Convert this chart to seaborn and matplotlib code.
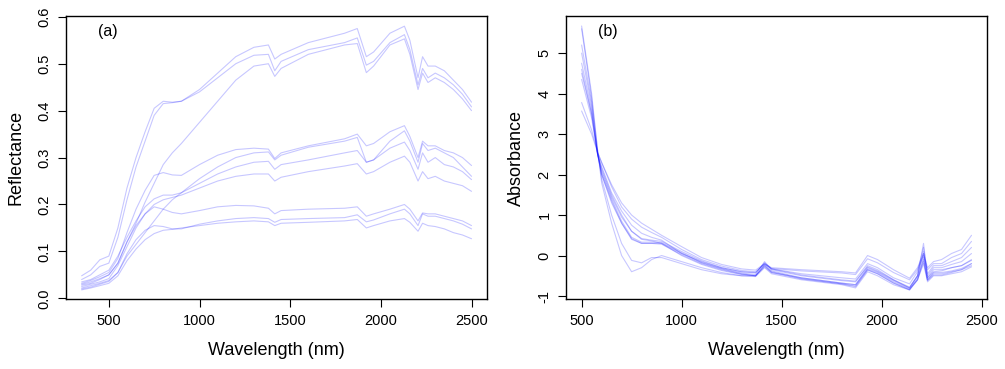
import numpy as np
import pandas as pd
import matplotlib
matplotlib.use('Agg')
import matplotlib.pyplot as plt
import seaborn as sns

# (a) reflectance spectra
wl_refl = [350, 400, 450, 500, 550, 600, 650, 700, 750, 800, 850, 900, 1000, 1100, 1200, 1300,
           1380, 1415, 1450, 1600, 1800, 1870, 1920, 1960, 2050, 2130, 2160, 2205, 2230, 2260,
           2300, 2350, 2400, 2450, 2500]

refl_a1 = [0.048, 0.060, 0.082, 0.090, 0.150, 0.235, 0.300, 0.355, 0.405, 0.420, 0.418, 0.420, 0.445, 0.480, 0.515, 0.535,
           0.540, 0.510, 0.520, 0.545, 0.565, 0.575, 0.515, 0.525, 0.565, 0.580, 0.550, 0.470, 0.515, 0.495,
           0.495, 0.485, 0.465, 0.445, 0.418]
refl_a2 = [0.040, 0.050, 0.068, 0.075, 0.130, 0.210, 0.280, 0.335, 0.390, 0.415, 0.417, 0.420, 0.440, 0.470, 0.500, 0.518,
           0.520, 0.485, 0.505, 0.530, 0.545, 0.555, 0.497, 0.505, 0.545, 0.562, 0.530, 0.455, 0.490, 0.470,
           0.480, 0.470, 0.455, 0.435, 0.408]
refl_a3 = [0.030, 0.035, 0.042, 0.050, 0.075, 0.120, 0.160, 0.205, 0.245, 0.285, 0.310, 0.330, 0.375, 0.420, 0.465, 0.495,
           0.500, 0.473, 0.490, 0.520, 0.540, 0.543, 0.481, 0.495, 0.540, 0.553, 0.520, 0.445, 0.480, 0.460,
           0.470, 0.460, 0.445, 0.425, 0.400]
refl_b1 = [0.032, 0.038, 0.046, 0.055, 0.085, 0.140, 0.190, 0.230, 0.262, 0.268, 0.263, 0.262, 0.285, 0.305, 0.317, 0.320,
           0.318, 0.298, 0.310, 0.325, 0.340, 0.350, 0.325, 0.330, 0.355, 0.368, 0.345, 0.300, 0.335, 0.325,
           0.325, 0.315, 0.310, 0.300, 0.283]
refl_b2 = [0.022, 0.027, 0.032, 0.038, 0.055, 0.090, 0.115, 0.140, 0.165, 0.190, 0.210, 0.225, 0.255, 0.280, 0.300, 0.310,
           0.312, 0.295, 0.305, 0.322, 0.335, 0.343, 0.290, 0.295, 0.335, 0.357, 0.335, 0.290, 0.330, 0.315,
           0.320, 0.310, 0.300, 0.280, 0.260]
refl_b3 = [0.035, 0.040, 0.050, 0.060, 0.090, 0.130, 0.165, 0.195, 0.212, 0.220, 0.220, 0.225, 0.245, 0.265, 0.280, 0.290,
           0.292, 0.275, 0.285, 0.295, 0.310, 0.315, 0.290, 0.295, 0.320, 0.333, 0.315, 0.275, 0.310, 0.290,
           0.300, 0.285, 0.280, 0.270, 0.253]
refl_b4 = [0.025, 0.030, 0.035, 0.042, 0.070, 0.110, 0.150, 0.180, 0.200, 0.210, 0.215, 0.220, 0.235, 0.250, 0.260, 0.265,
           0.265, 0.250, 0.258, 0.270, 0.282, 0.287, 0.265, 0.270, 0.290, 0.303, 0.290, 0.250, 0.270, 0.255,
           0.260, 0.250, 0.245, 0.240, 0.228]
refl_c1 = [0.028, 0.032, 0.040, 0.050, 0.075, 0.120, 0.155, 0.180, 0.195, 0.190, 0.183, 0.180, 0.187, 0.195, 0.198, 0.197,
           0.192, 0.180, 0.187, 0.190, 0.192, 0.195, 0.175, 0.180, 0.190, 0.200, 0.190, 0.165, 0.182, 0.180,
           0.180, 0.175, 0.170, 0.165, 0.155]
refl_c2 = [0.020, 0.024, 0.030, 0.036, 0.055, 0.095, 0.125, 0.145, 0.155, 0.153, 0.148, 0.148, 0.158, 0.165, 0.170, 0.172,
           0.170, 0.162, 0.168, 0.170, 0.172, 0.178, 0.163, 0.167, 0.180, 0.190, 0.180, 0.155, 0.180, 0.175,
           0.175, 0.170, 0.165, 0.158, 0.148]
refl_c3 = [0.018, 0.022, 0.027, 0.032, 0.048, 0.080, 0.105, 0.125, 0.138, 0.145, 0.147, 0.150, 0.155, 0.160, 0.163, 0.165,
           0.163, 0.155, 0.160, 0.162, 0.165, 0.168, 0.150, 0.155, 0.165, 0.170, 0.162, 0.143, 0.160, 0.155,
           0.153, 0.148, 0.140, 0.135, 0.127]

# (b) absorbance spectra
wl_abs = [500, 550, 580, 600, 650, 700, 750, 800, 850, 900, 1000, 1100, 1200, 1300, 1370, 1415,
          1450, 1600, 1800, 1870, 1930, 1980, 2060, 2140, 2180, 2210, 2230, 2260, 2300, 2350, 2400, 2450]

abs_1 = [3.57, 3.00, 2.55, 2.30, 1.75, 1.30, 1.00, 0.80, 0.65, 0.50, 0.22, -0.05, -0.22, -0.33, -0.36, -0.20,
         -0.30, -0.35, -0.40, -0.43, 0.00, -0.10, -0.35, -0.56, -0.30, 0.05, -0.30, -0.15, -0.10, 0.05, 0.15, 0.50]
abs_2 = [3.78, 3.10, 2.55, 2.30, 1.70, 1.20, 0.90, 0.70, 0.57, 0.45, 0.15, -0.10, -0.26, -0.37, -0.40, -0.22,
         -0.32, -0.38, -0.43, -0.47, -0.08, -0.18, -0.42, -0.60, -0.35, 0.00, -0.35, -0.20, -0.20, -0.05, 0.05, 0.35]
abs_3 = [4.50, 3.50, 2.50, 2.20, 1.55, 1.10, 0.75, 0.55, 0.45, 0.38, 0.05, -0.15, -0.30, -0.40, -0.42, -0.20,
         -0.33, -0.45, -0.55, -0.58, -0.20, -0.30, -0.55, -0.70, -0.40, 0.20, -0.45, -0.25, -0.25, -0.15, -0.05, 0.20]
abs_4 = [5.00, 3.70, 2.50, 2.00, 1.30, 0.80, 0.40, 0.30, 0.30, 0.30, 0.05, -0.18, -0.33, -0.45, -0.50, -0.22,
         -0.38, -0.55, -0.68, -0.72, -0.33, -0.42, -0.65, -0.82, -0.60, -0.05, -0.60, -0.42, -0.42, -0.38, -0.32, -0.20]
abs_5 = [5.20, 3.80, 2.50, 2.05, 1.40, 0.85, 0.45, 0.33, 0.33, 0.32, 0.07, -0.17, -0.32, -0.43, -0.47, -0.15,
         -0.35, -0.50, -0.62, -0.65, -0.25, -0.35, -0.60, -0.80, -0.50, 0.05, -0.55, -0.35, -0.35, -0.30, -0.25, -0.10]
abs_6 = [4.60, 3.50, 2.50, 2.10, 1.45, 0.95, 0.60, 0.42, 0.38, 0.35, 0.10, -0.13, -0.30, -0.40, -0.43, -0.18,
         -0.33, -0.48, -0.60, -0.63, -0.28, -0.38, -0.60, -0.78, -0.50, 0.10, -0.50, -0.30, -0.30, -0.22, -0.15, 0.05]
abs_7 = [4.35, 3.40, 2.50, 2.15, 1.50, 1.00, 0.60, 0.40, 0.36, 0.30, 0.00, -0.22, -0.37, -0.47, -0.50, -0.28,
         -0.42, -0.58, -0.70, -0.75, -0.35, -0.45, -0.68, -0.84, -0.55, -0.10, -0.60, -0.45, -0.45, -0.40, -0.35, -0.25]
abs_8 = [4.75, 3.60, 2.50, 2.00, 1.35, 0.80, 0.42, 0.30, 0.30, 0.28, 0.02, -0.20, -0.35, -0.46, -0.50, -0.25,
         -0.40, -0.57, -0.70, -0.77, -0.36, -0.45, -0.68, -0.85, -0.60, -0.15, -0.62, -0.48, -0.48, -0.42, -0.35, -0.20]
abs_9 = [5.67, 4.00, 2.60, 1.80, 0.80, 0.00, -0.40, -0.30, -0.10, 0.00, -0.15, -0.30, -0.42, -0.50, -0.52, -0.30,
         -0.45, -0.60, -0.72, -0.80, -0.40, -0.50, -0.72, -0.85, -0.60, -0.20, -0.65, -0.50, -0.50, -0.45, -0.40, -0.28]
abs_10 = [5.60, 3.90, 2.60, 1.90, 1.00, 0.30, -0.12, -0.18, -0.05, -0.05, -0.20, -0.35, -0.45, -0.50, -0.50, -0.25,
          -0.42, -0.55, -0.68, -0.72, -0.30, -0.40, -0.62, -0.80, -0.50, 0.30, -0.55, -0.40, -0.38, -0.30, -0.25, -0.12]

refl = [refl_a1, refl_a2, refl_a3, refl_b1, refl_b2, refl_b3, refl_b4, refl_c1, refl_c2, refl_c3]
absb = [abs_1, abs_2, abs_3, abs_4, abs_5, abs_6, abs_7, abs_8, abs_9, abs_10]

df_refl = pd.DataFrame([(i, w, v) for i, s in enumerate(refl) for w, v in zip(wl_refl, s)],
                       columns=['sample', 'wl', 'value'])
df_abs = pd.DataFrame([(i, w, v) for i, s in enumerate(absb) for w, v in zip(wl_abs, s)],
                      columns=['sample', 'wl', 'value'])

sns.set_style('ticks')
plt.rcParams['font.family'] = ['Liberation Sans', 'DejaVu Sans']
plt.rcParams['text.color'] = 'black'
plt.rcParams['axes.labelcolor'] = 'black'
plt.rcParams['xtick.color'] = 'black'
plt.rcParams['ytick.color'] = 'black'

fig = plt.figure(figsize=(10.05, 3.69), dpi=100)
ax1 = fig.add_axes([0.0657, 0.189, 0.419, 0.768])
ax2 = fig.add_axes([0.5632, 0.189, 0.419, 0.768])

for ax, df, ylab, tag in [(ax1, df_refl, 'Reflectance', '(a)'), (ax2, df_abs, 'Absorbance', '(b)')]:
    sns.lineplot(data=df, x='wl', y='value', units='sample', estimator=None,
                 color='#0000ff', alpha=0.22, lw=0.8, ax=ax)
    ax.set_xlabel('Wavelength (nm)', fontsize=13, labelpad=10, color='black')
    ax.set_ylabel(ylab, fontsize=13, labelpad=9, color='black')
    ax.text(0.075, 0.945, tag, transform=ax.transAxes, fontsize=11.5, va='center', ha='left', color='black')
    ax.tick_params(length=5.5, width=0.8, labelsize=10.5, pad=5, color='black', labelcolor='black')
    for sp in ax.spines.values():
        sp.set_visible(True)
        sp.set_linewidth(1.0)
        sp.set_color('black')

ax1.set_xlim(264, 2586)
ax1.set_ylim(-0.002, 0.602)
ax1.set_xticks([500, 1000, 1500, 2000, 2500])
ax1.set_yticks([0.0, 0.1, 0.2, 0.3, 0.4, 0.5, 0.6])
ax1.set_yticklabels(['0.0', '0.1', '0.2', '0.3', '0.4', '0.5', '0.6'], rotation=90, va='center')

ax2.set_xlim(422, 2528)
ax2.set_ylim(-1.08, 5.92)
ax2.set_xticks([500, 1000, 1500, 2000, 2500])
ax2.set_yticks([-1, 0, 1, 2, 3, 4, 5])
ax2.set_yticklabels(['-1', '0', '1', '2', '3', '4', '5'], rotation=90, va='center')

fig.savefig('out.png', dpi=100)
